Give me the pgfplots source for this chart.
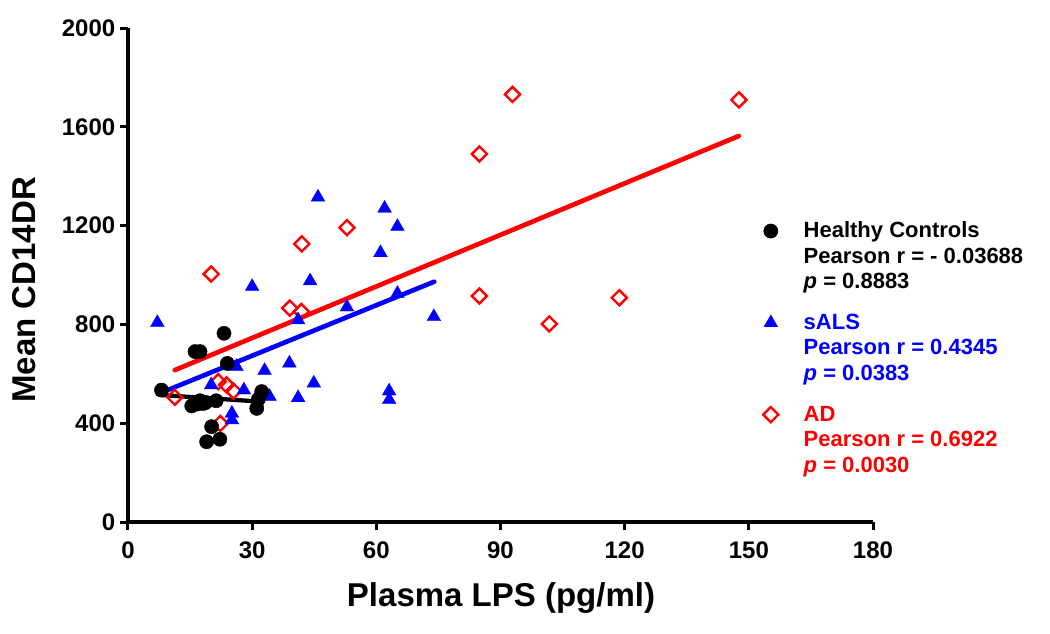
\documentclass[border=0pt]{standalone}
\usepackage{fontspec}
\setmainfont{Liberation Sans}
\usepackage{pgfplots}
\pgfplotsset{compat=1.18}
\begin{document}
\begin{tikzpicture}[x=0.75pt,y=0.75pt]
% page frame in reference pixels, origin at the axis corner
\useasboundingbox (-128,-111) rectangle (922,522);
\begin{axis}[
  at={(0,0)}, anchor=south west,
  width=558.75pt, height=370.5pt, scale only axis,
  xmin=0, xmax=180, ymin=0, ymax=2000,
  axis x line=bottom, axis y line=left,
  axis line style={-, line width=3pt},
  xtick={0,30,...,180}, ytick={0,400,...,2000},
  tick align=outside, major tick length=6pt,
  tick style={line width=2.25pt, black},
  ticklabel style={font=\fontsize{18}{18}\selectfont\bfseries},
  xticklabel style={yshift=-5pt},
  /pgf/number format/assume math mode=true,
  /pgf/number format/1000 sep={},
  xlabel={Plasma LPS (pg/ml)}, ylabel={Mean CD14DR},
  label style={font=\fontsize{24.75}{26}\selectfont\bfseries},
  xlabel style={at={(axis description cs:0.5007,-0.172)}, anchor=base},
  ylabel style={at={(axis description cs:-0.1235,0.47)}, anchor=base},
  clip=false,
  reverse legend,
  legend style={draw=none, fill=none, at={(axis description cs:0.847,0.623)},
    anchor=north west, font=\fontsize{16.5}{19.1}\selectfont\bfseries,
    row sep=50pt, cells={anchor=base west}, nodes={inner ysep=2pt, inner xsep=19pt}},
  legend image code/.code={\draw[mark repeat=2,mark phase=2,#1] plot coordinates {(0pt,5pt) (11pt,5pt) (22pt,5pt)};},
]
% AD
\addplot[only marks, mark=square, mark size=4pt, mark options={rotate=45, line width=1.8pt, draw=red, fill=none}]
  coordinates {(11.3,505) (20.1,1004) (21.8,568) (22.3,399) (23.8,555) (25.5,530) (39.1,866) (41.9,852)
  (42.0,1126) (52.9,1192) (84.9,1490) (84.9,915) (92.9,1731) (101.8,802) (118.7,908) (147.6,1709)};
\addlegendentry[text=red]{\begin{tabular}[t]{@{}l@{}}AD\\Pearson r = 0.6922\\\textit{p} = 0.0030\end{tabular}}
% sALS
\addplot[only marks, mark=triangle*, mark size=6pt, mark options={draw=blue, fill=blue, line width=0.2pt}]
  coordinates {(7.1,807) (20.1,555) (25.1,440) (25.1,413) (26.2,629) (28.0,534) (30.0,953) (33.0,613)
  (34.2,508) (39.0,643) (41.1,818) (41.1,503) (44.0,976) (44.9,562) (45.9,1315) (52.9,870)
  (61.0,1090) (62.0,1270) (63.1,530) (63.1,495) (65.1,1196) (65.1,925) (73.9,831)};
\addlegendentry[text=blue]{\begin{tabular}[t]{@{}l@{}}sALS\\Pearson r = 0.4345\\\textit{p} = 0.0383\end{tabular}}
% Healthy controls
\addplot[only marks, mark=*, mark size=5.3pt, mark options={draw=black, fill=black}]
  coordinates {(8.1,534) (23.2,764) (16.2,690) (17.4,690) (24.0,642) (32.3,528) (31.1,460) (31.5,497)
  (15.4,470) (17.4,491) (18.2,480) (16.8,478) (21.3,491) (20.2,386) (19.0,325) (22.2,335) (18.8,484)};
\addlegendentry[text=black]{\begin{tabular}[t]{@{}l@{}}Healthy Controls\\Pearson r = - 0.03688\\\textit{p} = 0.8883\end{tabular}}
% regression lines
\addplot[forget plot, black, line width=3.2pt, line cap=round] coordinates {(8.1,514) (32.3,487)};
\addplot[forget plot, blue, line width=3.5pt, line cap=round] coordinates {(7.2,518) (74.0,973)};
\addplot[forget plot, red, line width=3.5pt, line cap=round] coordinates {(11.3,615) (147.6,1563)};
\end{axis}
\end{tikzpicture}
\end{document}
